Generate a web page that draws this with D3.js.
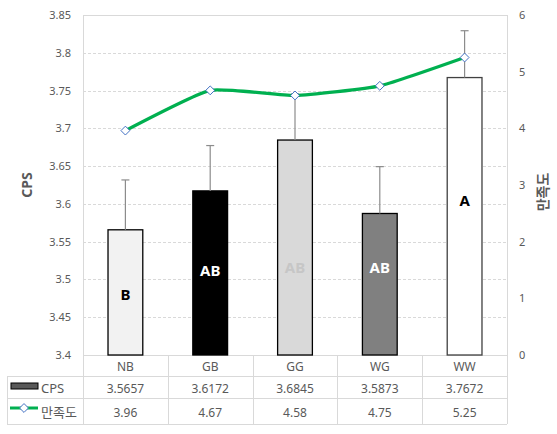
<!DOCTYPE html>
<html><head><meta charset="utf-8">
<script src="https://cdn.jsdelivr.net/npm/d3@7"></script>
<style>
html,body{margin:0;padding:0;background:#fff;}
text{font-family:"Noto Sans","Noto Sans CJK KR",sans-serif;fill:#595959;}
</style></head>
<body><svg id="c" width="557" height="434"></svg>
<script>
const categories = ["NB","GB","GG","WG","WW"];
const cpsValues = [3.5657, 3.6172, 3.6845, 3.5873, 3.7672];
const cpsErrors = [0.066, 0.060, 0.061, 0.062, 0.062];
const satValues = [3.96, 4.67, 4.58, 4.75, 5.25];
const barFills = ["#F2F2F2","#000000","#D9D9D9","#808080","#FFFFFF"];
const letters = ["B","AB","AB","AB","A"];
const letterColors = ["#000000","#FFFFFF","#C6C6C6","#FFFFFF","#000000"];
const letterAt = [3.481, 3.512, 3.517, 3.517, 3.605];
const leftTicks = [3.4,3.45,3.5,3.55,3.6,3.65,3.7,3.75,3.8,3.85];
const rightTicks = [0,1,2,3,4,5,6];
const seriesNames = ["CPS","만족도"];

const svg = d3.select("#c");
const L = 83, R = 507, T = 15, B = 355;
const rowY = [355, 376, 398, 424];
const tableLeft = 7;

const x = d3.scaleBand().domain(categories).range([L, R]).paddingInner(0).paddingOuter(0);
const yL = d3.scaleLinear().domain([3.4, 3.85]).range([B, T]);
const yR = d3.scaleLinear().domain([0, 6]).range([B, T]);
const barW = x.bandwidth() * 0.41;
const grid = "#D9D9D9";

// gridlines
svg.append("g").selectAll("line").data(leftTicks.filter(t => t > 3.4 && t < 3.85)).join("line")
  .attr("x1", L).attr("x2", R).attr("y1", d => Math.round(yL(d)) + 0.5).attr("y2", d => Math.round(yL(d)) + 0.5)
  .attr("stroke", grid).attr("stroke-width", 1).attr("stroke-dasharray", "3,2");

// plot border
svg.append("rect").attr("x", L + 0.5).attr("y", T + 0.5).attr("width", R - L).attr("height", B - T)
  .attr("fill", "none").attr("stroke", grid);

// left axis
const axL = svg.append("g").attr("transform", `translate(${L},0)`)
  .call(d3.axisLeft(yL).tickValues(leftTicks).tickSize(0).tickPadding(12).tickFormat(d => String(+d.toFixed(2))));
axL.select(".domain").remove();
axL.selectAll("text").style("font-size", "11px").attr("fill", "#595959");

// right axis
const axR = svg.append("g").attr("transform", `translate(${R},0)`)
  .call(d3.axisRight(yR).tickValues(rightTicks).tickSize(0).tickPadding(12).tickFormat(d3.format("d")));
axR.select(".domain").remove();
axR.selectAll("text").style("font-size", "11px").attr("fill", "#595959");

// axis titles
svg.append("text").attr("transform", `translate(26,${(T + B) / 2}) rotate(-90)`)
  .attr("text-anchor", "middle").attr("dominant-baseline", "central")
  .style("font-size", "14px").style("font-weight", "bold").text("CPS");
svg.append("text").attr("transform", `translate(542,${(T + B) / 2 + 7}) rotate(-90)`)
  .attr("text-anchor", "middle").attr("dominant-baseline", "central")
  .style("font-size", "14px").style("font-weight", "bold").style("font-family", "'Noto Sans CJK KR',sans-serif").text("만족도");

// bars
const bars = categories.map((c, i) => ({c, v: cpsValues[i], e: cpsErrors[i], f: barFills[i], l: letters[i], lc: letterColors[i], la: letterAt[i]}));
svg.append("g").selectAll("rect").data(bars).join("rect")
  .attr("x", d => x(d.c) + x.bandwidth() / 2 - barW / 2)
  .attr("y", d => yL(d.v))
  .attr("width", barW)
  .attr("height", d => B - yL(d.v))
  .attr("fill", d => d.f)
  .attr("stroke", (d, i) => i === 4 ? "#404040" : "#000")
  .attr("stroke-width", 1.3);

// error bars
const eb = svg.append("g").attr("stroke", "#8C8C8C").attr("stroke-width", 1.2);
eb.selectAll("line.v").data(bars).join("line").attr("class", "v")
  .attr("x1", d => x(d.c) + x.bandwidth() / 2).attr("x2", d => x(d.c) + x.bandwidth() / 2)
  .attr("y1", d => yL(d.v)).attr("y2", d => yL(d.v + d.e));
eb.selectAll("line.h").data(bars).join("line").attr("class", "h")
  .attr("x1", d => x(d.c) + x.bandwidth() / 2 - 4).attr("x2", d => x(d.c) + x.bandwidth() / 2 + 4)
  .attr("y1", d => yL(d.v + d.e)).attr("y2", d => yL(d.v + d.e));

// letters
svg.append("g").selectAll("text").data(bars).join("text")
  .attr("x", d => x(d.c) + x.bandwidth() / 2)
  .attr("y", d => yL(d.la))
  .attr("text-anchor", "middle").attr("dominant-baseline", "central")
  .style("font-size", "15px").style("font-weight", "bold")
  .style("fill", d => d.lc)
  .text(d => d.l);

// line
const green = "#00B050";
const pts = categories.map((c, i) => [x(c) + x.bandwidth() / 2, yR(satValues[i])]);
svg.append("path").datum(pts)
  .attr("d", d3.line().curve(d3.curveCardinal.tension(0.55)))
  .attr("fill", "none").attr("stroke", green).attr("stroke-width", 3.2).attr("stroke-linecap", "round");
const diamond = d3.symbol().type(d3.symbolDiamond2).size(50);
svg.append("g").selectAll("path").data(pts).join("path")
  .attr("transform", d => `translate(${d[0]},${d[1]})`)
  .attr("d", diamond).attr("fill", "#fff").attr("stroke", "#4472C4").attr("stroke-width", 1);

// data table
const tg = svg.append("g").attr("stroke", grid).attr("stroke-width", 1);
[rowY[1], rowY[2], rowY[3]].forEach(yy => {
  tg.append("line").attr("x1", tableLeft).attr("x2", R).attr("y1", yy + 0.5).attr("y2", yy + 0.5);
});
tg.append("line").attr("x1", tableLeft + 0.5).attr("x2", tableLeft + 0.5).attr("y1", rowY[1]).attr("y2", rowY[3]);
categories.concat(["end"]).forEach((c, i) => {
  const xx = i < categories.length ? x(c) : R;
  tg.append("line").attr("x1", Math.round(xx) + 0.5).attr("x2", Math.round(xx) + 0.5).attr("y1", rowY[0]).attr("y2", rowY[3]);
});

const tfs = "12px";
svg.append("g").selectAll("text").data(categories).join("text")
  .attr("x", d => x(d) + x.bandwidth() / 2).attr("y", (rowY[0] + rowY[1]) / 2 + 1)
  .attr("text-anchor", "middle").attr("dominant-baseline", "central").style("font-size", tfs).text(d => d);
svg.append("g").selectAll("text").data(cpsValues).join("text")
  .attr("x", (d, i) => x(categories[i]) + x.bandwidth() / 2).attr("y", (rowY[1] + rowY[2]) / 2 + 1)
  .attr("text-anchor", "middle").attr("dominant-baseline", "central").style("font-size", tfs).text(d => d.toFixed(4));
svg.append("g").selectAll("text").data(satValues).join("text")
  .attr("x", (d, i) => x(categories[i]) + x.bandwidth() / 2).attr("y", (rowY[2] + rowY[3]) / 2 + 1)
  .attr("text-anchor", "middle").attr("dominant-baseline", "central").style("font-size", tfs).text(d => d.toFixed(2));

// legend keys in table
svg.append("rect").attr("x", 11).attr("y", 383).attr("width", 27).attr("height", 6)
  .attr("fill", "#595959").attr("stroke", "#000").attr("stroke-width", 1);
svg.append("text").attr("x", 41).attr("y", (rowY[1] + rowY[2]) / 2 + 1).attr("dominant-baseline", "central")
  .style("font-size", "13px").text(seriesNames[0]);
svg.append("line").attr("x1", 10).attr("x2", 38).attr("y1", 408).attr("y2", 408)
  .attr("stroke", green).attr("stroke-width", 3);
svg.append("path").attr("transform", "translate(24,408)").attr("d", diamond)
  .attr("fill", "#fff").attr("stroke", "#4472C4").attr("stroke-width", 1);
svg.append("text").attr("x", 41).attr("y", (rowY[2] + rowY[3]) / 2).attr("dominant-baseline", "central")
  .style("font-size", "13px").style("font-family", "'Noto Sans CJK KR',sans-serif").text(seriesNames[1]);
</script></body></html>
